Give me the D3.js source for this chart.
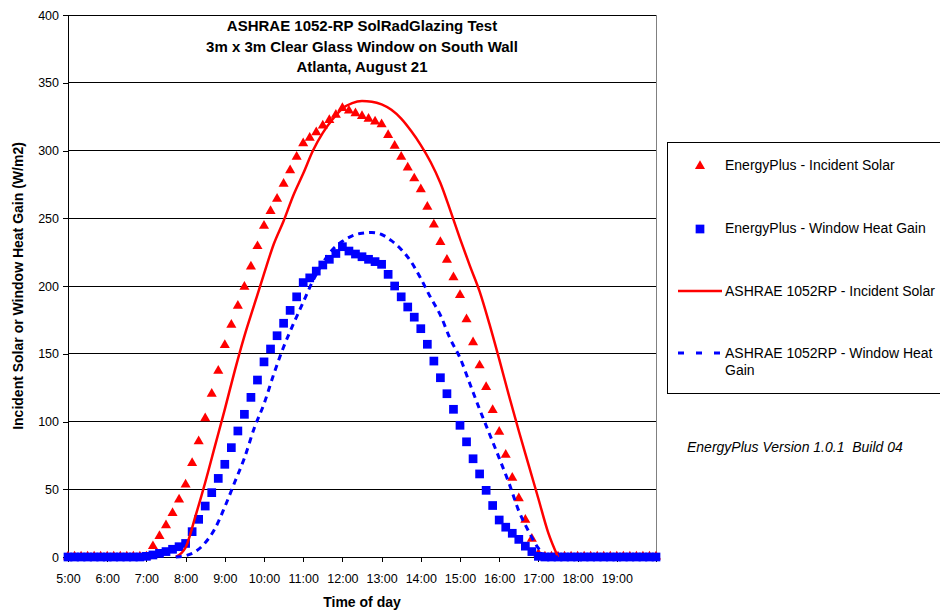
<!DOCTYPE html>
<html>
<head>
<meta charset="utf-8">
<style>
  body { margin: 0; background: #fff; }
  svg text { font-family: "Liberation Sans", Arial, sans-serif; fill: #000; }
  .axis path.domain, .axis .tick line { stroke: #000; }
</style>
</head>
<body>
<svg id="chart" width="940" height="611"></svg>
<script src="https://cdnjs.cloudflare.com/ajax/libs/d3/7.8.5/d3.min.js"></script>
<script>
// EnergyPlus results, one value per 10 minute timestep
var epTimes = [
  "5:00","5:10","5:20","5:30","5:40","5:50",
  "6:00","6:10","6:20","6:30","6:40","6:50",
  "7:00","7:10","7:20","7:30","7:40","7:50",
  "8:00","8:10","8:20","8:30","8:40","8:50",
  "9:00","9:10","9:20","9:30","9:40","9:50",
  "10:00","10:10","10:20","10:30","10:40","10:50",
  "11:00","11:10","11:20","11:30","11:40","11:50",
  "12:00","12:10","12:20","12:30","12:40","12:50",
  "13:00","13:10","13:20","13:30","13:40","13:50",
  "14:00","14:10","14:20","14:30","14:40","14:50",
  "15:00","15:10","15:20","15:30","15:40","15:50",
  "16:00","16:10","16:20","16:30","16:40","16:50",
  "17:00","17:10","17:20","17:30","17:40","17:50",
  "18:00","18:10","18:20","18:30","18:40","18:50",
  "19:00","19:10","19:20","19:30","19:40","19:50",
  "20:00"
];
var epIncident = [
  0, 0, 0, 0, 0, 0,
  0, 0, 0, 0, 0, 0,
  0, 7.6, 15, 23, 32, 42,
  53, 69, 85, 102, 120, 137,
  156, 171, 185, 199, 214, 229,
  244, 255, 264, 275, 285, 295,
  305, 309, 313, 318, 322, 326,
  331, 329, 327, 325, 323, 321,
  319, 311, 303, 295, 287, 279,
  271, 258, 245, 232, 219, 206,
  193, 175, 158, 141, 125, 108,
  92, 75, 58, 43, 27, 13,
  2, 0, 0, 0, 0, 0,
  0, 0, 0, 0, 0, 0,
  0, 0, 0, 0, 0, 0,
  0
];
var epWindow = [
  0, 0, 0, 0, 0, 0,
  0, 0, 0, 0, 0, 0,
  0.5, 1.5, 2.7, 4, 5.7, 7.6,
  10, 18.7, 27.8, 37.6, 47.5, 58,
  68.4, 80.7, 93, 105.3, 117.8, 130.6,
  144, 153.5, 163.3, 172.5, 182, 192,
  202.5, 206, 211, 215.5, 219.7, 224,
  229, 225.8, 223.6, 221.6, 219.7, 218,
  216, 208.6, 200, 192, 184.5, 177,
  168.5, 157, 144.6, 132.3, 120.5, 109,
  97.2, 85, 72.5, 61.3, 49.2, 38,
  27.3, 22, 17.5, 13, 8, 4,
  0.5, 0, 0, 0, 0, 0,
  0, 0, 0, 0, 0, 0,
  0, 0, 0, 0, 0, 0,
  0
];

// ASHRAE 1052RP results, 15 minute steps
var ashTimes = [
  "7:45",
  "8:00","8:15","8:30","8:45","9:00","9:15","9:30","9:45",
  "10:00","10:15","10:30","10:45","11:00","11:15","11:30","11:45",
  "12:00","12:15","12:30","12:45","13:00","13:15","13:30","13:45",
  "14:00","14:15","14:30","14:45","15:00","15:15","15:30","15:45",
  "16:00","16:15","16:30","16:45","17:00","17:15","17:30"
];
var ashIncident = [
  0,
  7, 30, 55, 82, 109, 137, 163, 186,
  209, 231, 248, 267, 283, 300, 313, 323,
  331, 335, 336.5, 336, 334, 330, 323.5, 314.5,
  304, 291.5, 276, 256, 235, 215, 196, 172,
  146, 119, 93, 68, 43, 18, 0
];
var ashWindow = [
  0,
  1, 4, 10.5, 21, 37, 55, 73, 95,
  113, 135, 155, 172, 188, 204, 217, 227,
  233, 237, 239, 239.5, 238, 233.5, 227, 218,
  205.5, 191.5, 178.5, 161, 147, 128, 109, 91,
  73, 54.5, 34, 19, 6.5, 0.5, 0
];

var hourLabels = ["5:00","6:00","7:00","8:00","9:00","10:00","11:00","12:00",
                  "13:00","14:00","15:00","16:00","17:00","18:00","19:00","20:00"];
var yTicks = [0, 50, 100, 150, 200, 250, 300, 350, 400];

var titleLines = ["ASHRAE 1052-RP SolRadGlazing Test",
                  "3m x 3m Clear Glass Window on South Wall",
                  "Atlanta, August 21"];

function hrs(s) {
  var p = s.split(":");
  return +p[0] + (+p[1]) / 60;
}

// plot area edges (window.top is read-only, so keep these in their own names)
var plotLeft = 68, plotRight = 656, plotTop = 15, plotBottom = 557;
var svg = d3.select("#chart");

var x = d3.scaleLinear().domain([5, 20]).range([plotLeft, plotRight]);
var y = d3.scaleLinear().domain([0, 400]).range([plotBottom, plotTop]);

// gridlines
svg.append("g").selectAll("line")
  .data(yTicks.filter(function(d) { return d > 0; }))
  .enter().append("line")
    .attr("x1", plotLeft).attr("x2", plotRight)
    .attr("y1", function(d) { return y(d); })
    .attr("y2", function(d) { return y(d); })
    .style("stroke", "#000")
    .style("stroke-width", 1)
    .attr("shape-rendering", "crispEdges");

// plot area right border
svg.append("line")
  .attr("x1", plotRight).attr("x2", plotRight)
  .attr("y1", plotTop).attr("y2", plotBottom)
  .style("stroke", "#808080")
  .attr("shape-rendering", "crispEdges");

// axes
var yAxis = d3.axisLeft(y).tickValues(yTicks).tickSize(5).tickSizeOuter(0).tickPadding(4);
svg.append("g").attr("class", "axis")
  .attr("transform", "translate(" + plotLeft + ",0)")
  .call(yAxis)
  .call(function(g) {
    g.selectAll("text").style("font-size", "12.5px");
    g.selectAll("path, line").attr("shape-rendering", "crispEdges");
  });

var xAxis = d3.axisBottom(x)
  .tickValues(hourLabels.map(hrs))
  .tickSize(5).tickSizeOuter(0).tickPadding(12)
  .tickFormat(function(d, i) { return d < 20 ? hourLabels[i] : ""; });
svg.append("g").attr("class", "axis")
  .attr("transform", "translate(0," + plotBottom + ")")
  .call(xAxis)
  .call(function(g) {
    g.selectAll("text").style("font-size", "12.5px");
    g.selectAll("path, line").attr("shape-rendering", "crispEdges");
  });

var triangle = d3.symbol().type(d3.symbolTriangle).size(44);
var square = d3.symbol().type(d3.symbolSquare).size(76);

// EnergyPlus incident solar - triangles
svg.append("g").selectAll("path")
  .data(epTimes)
  .enter().append("path")
    .attr("d", triangle)
    .attr("transform", function(d, i) {
      return "translate(" + x(hrs(d)) + "," + (y(epIncident[i]) - 0.5) + ")";
    })
    .style("fill", "#ff0000");

// EnergyPlus window heat gain - squares
svg.append("g").selectAll("path")
  .data(epTimes)
  .enter().append("path")
    .attr("d", square)
    .attr("transform", function(d, i) {
      return "translate(" + x(hrs(d)) + "," + y(epWindow[i]) + ")";
    })
    .style("fill", "#0000ff");

var line = function(vals) {
  return d3.line()
    .x(function(d) { return x(hrs(d)); })
    .y(function(d, i) { return y(vals[i]); })
    .curve(d3.curveMonotoneX);
};

svg.append("path")
  .attr("d", line(ashIncident)(ashTimes))
  .style("fill", "none")
  .style("stroke", "#ff0000")
  .style("stroke-width", 2.5);

svg.append("path")
  .attr("d", line(ashWindow)(ashTimes))
  .style("fill", "none")
  .style("stroke", "#0000ff")
  .style("stroke-width", 3)
  .style("stroke-dasharray", "6,5");

// title
svg.append("g").selectAll("text")
  .data(titleLines)
  .enter().append("text")
    .attr("x", 362)
    .attr("y", function(d, i) { return 31 + i * 20.5; })
    .attr("text-anchor", "middle")
    .style("font-size", "15px")
    .style("font-weight", "bold")
    .text(function(d) { return d; });

// axis titles
svg.append("text")
  .attr("transform", "translate(23,286) rotate(-90)")
  .attr("text-anchor", "middle")
  .style("font-size", "14px")
  .style("font-weight", "bold")
  .text("Incident Solar or Window Heat Gain (W/m2)");

svg.append("text")
  .attr("x", 362).attr("y", 607)
  .attr("text-anchor", "middle")
  .style("font-size", "14px")
  .style("font-weight", "bold")
  .text("Time of day");

// legend
var legend = svg.append("g");
legend.append("rect")
  .attr("x", 667.5).attr("y", 142.5)
  .attr("width", 300).attr("height", 251)
  .style("fill", "#fff")
  .style("stroke", "#000");

legend.append("path").attr("d", triangle)
  .attr("transform", "translate(700,166)").style("fill", "#ff0000");
legend.append("path").attr("d", square)
  .attr("transform", "translate(700,229)").style("fill", "#0000ff");
legend.append("line")
  .attr("x1", 678).attr("x2", 722).attr("y1", 291).attr("y2", 291)
  .style("stroke", "#ff0000").style("stroke-width", 2.5);
legend.append("line")
  .attr("x1", 678).attr("x2", 722).attr("y1", 353).attr("y2", 353)
  .style("stroke", "#0000ff").style("stroke-width", 3)
  .style("stroke-dasharray", "6,12");

var legendText = [
  ["EnergyPlus - Incident Solar", 170],
  ["EnergyPlus - Window Heat Gain", 233],
  ["ASHRAE 1052RP - Incident Solar", 296],
  ["ASHRAE 1052RP - Window Heat", 358],
  ["Gain", 375]
];
legend.selectAll("text.item")
  .data(legendText)
  .enter().append("text")
    .attr("class", "item")
    .attr("x", 725)
    .attr("y", function(d) { return d[1]; })
    .style("font-size", "14px")
    .text(function(d) { return d[0]; });

svg.append("text")
  .attr("x", 687).attr("y", 452)
  .style("font-size", "14px")
  .style("font-style", "italic")
  .style("white-space", "pre")
  .text("EnergyPlus Version 1.0.1  Build 04");
</script>
</body>
</html>
